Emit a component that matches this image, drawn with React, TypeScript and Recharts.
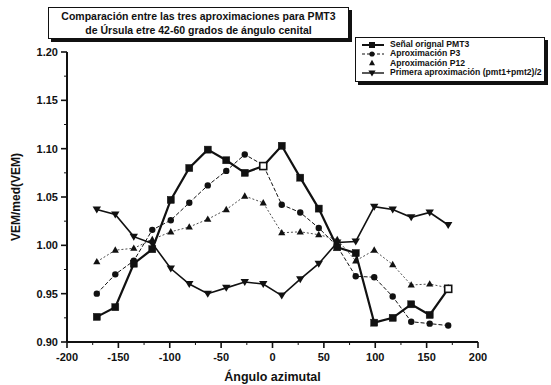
import React from "react";
import { LineChart, Line, XAxis, YAxis, Legend, Label } from "recharts";

const angles = [-171, -153, -135, -117, -99, -81, -63, -45, -27, -9, 9, 27, 45, 63, 81, 99, 117, 135, 153, 171];
const senal = [0.926, 0.936, 0.981, 0.996, 1.047, 1.080, 1.099, 1.088, 1.075, 1.082, 1.103, 1.070, 1.038, 0.998, 0.992, 0.920, 0.925, 0.939, 0.928, 0.955];
const p3 = [0.950, 0.970, 0.984, 1.016, 1.026, 1.044, 1.062, 1.077, 1.094, 1.083, 1.042, 1.034, 1.018, 0.999, 0.968, 0.967, 0.947, 0.921, 0.919, 0.917];
const p12 = [0.983, 0.995, 0.997, 1.006, 1.014, 1.019, 1.027, 1.037, 1.051, 1.044, 1.013, 1.014, 1.011, 1.006, 0.984, 0.995, 0.980, 0.959, 0.960, 0.956];
const primera = [1.037, 1.032, 1.009, 1.002, 0.976, 0.960, 0.950, 0.956, 0.962, 0.960, 0.948, 0.965, 0.981, 1.003, 1.004, 1.040, 1.037, 1.029, 1.034, 1.021];
const hollowSenalAngles = [-9, 171];

const xTicks = [-200, -175, -150, -125, -100, -75, -50, -25, 0, 25, 50, 75, 100, 125, 150, 175, 200];
const yTicks = [0.9, 0.925, 0.95, 0.975, 1.0, 1.025, 1.05, 1.075, 1.1, 1.125, 1.15, 1.175, 1.2];

const titleLines = [
  "Comparación entre las tres aproximaciones para PMT3",
  "de Úrsula etre 42-60 grados de ángulo cenital",
];
const seriesNames = [
  "Señal orignal PMT3",
  "Aproximación P3",
  "Aproximación P12",
  "Primera aproximación (pmt1+pmt2)/2",
];
const xTitle = "Ángulo azimutal";
const yTitle = "VEM/med(VEM)";

const data = angles.map((a, i) => ({
  angle: a,
  senal: senal[i],
  p3: p3[i],
  p12: p12[i],
  primera: primera[i],
}));

const FONT = "'Liberation Sans', Arial, Helvetica, sans-serif";

const SquareDot = (props: any) => {
  const { cx, cy, payload, index } = props;
  if (cx == null || cy == null) return <g key={`sq-${index}`} />;
  const hollow = hollowSenalAngles.includes(payload.angle);
  return (
    <rect
      key={`sq-${index}`}
      x={cx - 3.5}
      y={cy - 3.5}
      width={7}
      height={7}
      fill={hollow ? "#fff" : "#111"}
      stroke="#111"
      strokeWidth={hollow ? 1.6 : 0.5}
    />
  );
};

const CircleDot = (props: any) => {
  const { cx, cy, index } = props;
  if (cx == null || cy == null) return <g key={`ci-${index}`} />;
  return <circle key={`ci-${index}`} cx={cx} cy={cy} r={3.2} fill="#111" />;
};

const TriUpDot = (props: any) => {
  const { cx, cy, index } = props;
  if (cx == null || cy == null) return <g key={`tu-${index}`} />;
  return (
    <path
      key={`tu-${index}`}
      d={`M${cx},${cy - 3.8} L${cx + 3.6},${cy + 2.6} L${cx - 3.6},${cy + 2.6} Z`}
      fill="#111"
    />
  );
};

const TriDownDot = (props: any) => {
  const { cx, cy, index } = props;
  if (cx == null || cy == null) return <g key={`td-${index}`} />;
  return (
    <path
      key={`td-${index}`}
      d={`M${cx - 4.2},${cy - 3} L${cx + 4.2},${cy - 3} L${cx},${cy + 4} Z`}
      fill="#111"
    />
  );
};

const XTick = (props: any) => {
  const { x, y, payload } = props;
  const v = payload.value;
  const major = Math.round(v) % 50 === 0;
  return (
    <g>
      <line x1={x} x2={x} y1={y} y2={y + (major ? 6 : 3)} stroke="#111" strokeWidth={major ? 1.6 : 1} />
      {major && (
        <text
          x={x}
          y={y + 19}
          textAnchor="middle"
          fontFamily={FONT}
          fontWeight="bold"
          fontSize={11}
          fill="#111"
        >
          {String(v)}
        </text>
      )}
    </g>
  );
};

const YTick = (props: any) => {
  const { x, y, payload } = props;
  const v = payload.value;
  const major = Math.round(v * 1000) % 50 === 0;
  return (
    <g>
      <line x1={x - (major ? 6 : 3)} x2={x} y1={y} y2={y} stroke="#111" strokeWidth={major ? 1.6 : 1} />
      {major && (
        <text
          x={x - 9}
          y={y + 4}
          textAnchor="end"
          fontFamily={FONT}
          fontWeight="bold"
          fontSize={11}
          fill="#111"
        >
          {v.toFixed(2)}
        </text>
      )}
    </g>
  );
};

const legendSamples = [
  { dash: undefined, width: 2, marker: "square" },
  { dash: "3 2", width: 1, marker: "circle" },
  { dash: "1 2", width: 0.8, marker: "triup" },
  { dash: undefined, width: 1.4, marker: "tridown" },
];

const LegendMarker = ({ kind }: { kind: string }) => {
  const cx = 11;
  const cy = 5;
  if (kind === "square") return <rect x={cx - 3} y={cy - 3} width={6} height={6} fill="#111" />;
  if (kind === "circle") return <circle cx={cx} cy={cy} r={2.6} fill="#111" />;
  if (kind === "triup")
    return <path d={`M${cx},${cy - 3.2} L${cx + 3},${cy + 2.2} L${cx - 3},${cy + 2.2} Z`} fill="#111" />;
  return <path d={`M${cx - 3.6},${cy - 2.6} L${cx + 3.6},${cy - 2.6} L${cx},${cy + 3.4} Z`} fill="#111" />;
};

const renderLegend = () => (
  <div
    style={{
      boxSizing: "border-box",
      width: 190,
      height: 45,
      background: "#fff",
      borderTop: "1px solid #111",
      borderLeft: "1px solid #111",
      borderRight: "1px solid #111",
      borderBottom: "1px solid #111",
      boxShadow: "3px 3px 0 #111",
      padding: "2px 0 0 5px",
      fontFamily: FONT,
      fontWeight: "bold",
      fontSize: 8.6,
      color: "#111",
      lineHeight: "9.4px",
    }}
  >
    {seriesNames.map((name, i) => (
      <div key={name} style={{ display: "flex", alignItems: "center", height: 9.4, whiteSpace: "nowrap" }}>
        <svg width={24} height={10} style={{ marginRight: 5, flex: "none" }}>
          {i !== 2 && (
            <line
              x1={1}
              x2={23}
              y1={5}
              y2={5}
              stroke="#111"
              strokeWidth={legendSamples[i].width}
              strokeDasharray={legendSamples[i].dash}
            />
          )}
          <LegendMarker kind={legendSamples[i].marker} />
        </svg>
        <span>{name}</span>
      </div>
    ))}
  </div>
);

export default function App() {
  return (
    <div style={{ position: "absolute", left: 0, top: 0, width: 551, height: 385, background: "#fff" }}>
      <LineChart
        width={551}
        height={385}
        data={data}
        margin={{ top: 52, right: 73, bottom: 0, left: 0 }}
      >
        <XAxis
          dataKey="angle"
          type="number"
          domain={[-200, 200]}
          ticks={xTicks}
          interval={0}
          height={43}
          tickSize={0}
          tickMargin={0}
          tickLine={false}
          tick={<XTick />}
          axisLine={{ stroke: "#111", strokeWidth: 2 }}
        >
          <Label
            value={xTitle}
            position="insideBottom"
            offset={4}
            style={{ fontFamily: FONT, fontWeight: "bold", fontSize: 12.5, fill: "#111" }}
          />
        </XAxis>
        <YAxis
          type="number"
          domain={[0.9, 1.2]}
          ticks={yTicks}
          interval={0}
          width={67}
          tickSize={0}
          tickMargin={0}
          tickLine={false}
          tick={<YTick />}
          axisLine={{ stroke: "#111", strokeWidth: 2 }}
        >
          <Label
            content={() => (
              <text
                x={16}
                y={197}
                transform="rotate(-90 16 197)"
                textAnchor="middle"
                dominantBaseline="central"
                fontFamily={FONT}
                fontWeight="bold"
                fontSize={12}
                fill="#111"
              >
                {yTitle}
              </text>
            )}
          />
        </YAxis>
        <Legend
          layout="horizontal"
          verticalAlign="middle"
          align="center"
          content={renderLegend}
          wrapperStyle={{ position: "absolute", left: 355, top: 37, width: 190, height: 45 }}
        />
        <Line
          dataKey="p12"
          stroke="#222"
          strokeWidth={0.8}
          strokeDasharray="2 2"
          dot={TriUpDot}
          activeDot={false}
          isAnimationActive={false}
        />
        <Line
          dataKey="p3"
          stroke="#111"
          strokeWidth={1}
          strokeDasharray="4 2"
          dot={CircleDot}
          activeDot={false}
          isAnimationActive={false}
        />
        <Line
          dataKey="primera"
          stroke="#111"
          strokeWidth={1.6}
          dot={TriDownDot}
          activeDot={false}
          isAnimationActive={false}
        />
        <Line
          dataKey="senal"
          stroke="#111"
          strokeWidth={2.2}
          dot={SquareDot}
          activeDot={false}
          isAnimationActive={false}
        />
      </LineChart>
      <div
        style={{
          position: "absolute",
          left: 48,
          top: 7,
          width: 301,
          height: 32,
          boxSizing: "border-box",
          border: "1px solid #111",
          boxShadow: "3px 3px 0 #111",
          background: "#fff",
          fontFamily: FONT,
          fontWeight: "bold",
          fontSize: 10.5,
          lineHeight: "13.5px",
          textAlign: "center",
          color: "#111",
          paddingTop: 2,
        }}
      >
        {titleLines.map((t) => (
          <div key={t} style={{ whiteSpace: "nowrap" }}>{t}</div>
        ))}
      </div>
    </div>
  );
}
